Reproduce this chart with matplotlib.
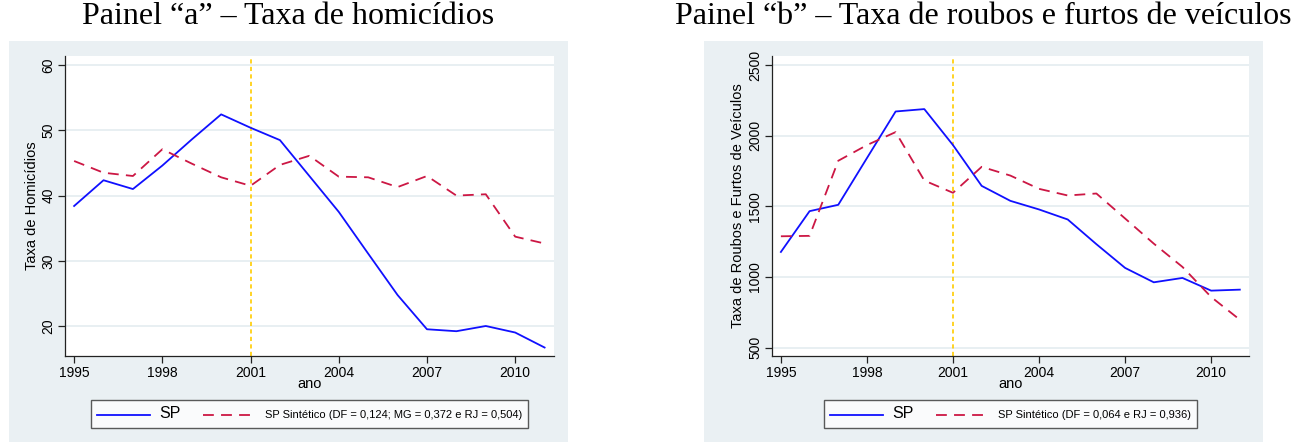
import matplotlib
matplotlib.use("Agg")
import matplotlib.pyplot as plt
from matplotlib.patches import Rectangle

anos = list(range(1995, 2012))

# Painel a - taxa de homicidios
hom_sp = [38.4, 42.35, 41.0, 44.6, 48.6, 52.45, 50.4, 48.5, 43.0, 37.5,
          31.1, 24.75, 19.5, 19.2, 20.0, 19.0, 16.7]
hom_sint = [45.3, 43.5, 43.0, 47.1, 44.9, 42.8, 41.5, 44.7, 46.1, 42.9,
            42.8, 41.3, 43.0, 40.0, 40.2, 33.7, 32.65]

# Painel b - roubos e furtos de veiculos
rf_sp = [1177, 1466, 1511, 1842, 2172, 2189, 1934, 1645, 1539, 1478,
         1407, 1232, 1064, 962, 993, 903, 910]
rf_sint = [1288, 1291, 1823, 1934, 2026, 1683, 1596, 1780, 1718, 1624,
           1577, 1591, 1414, 1236, 1071, 858, 697]

xticks = [1995, 1998, 2001, 2004, 2007, 2010]
yticks_a = [20, 30, 40, 50, 60]
yticks_b = [500, 1000, 1500, 2000, 2500]

BG = '#eaf0f3'
GRID = '#e4ecf0'
BLUE = '#1010ff'
RED = '#cc1744'
GOLD = '#ffcc00'

W, H = 1309, 443
fig = plt.figure(figsize=(W / 100, H / 100), dpi=100)


def fx(px):
	return px / W


def fy(py):
	return 1 - py / H


def painel(gx0, gx1, ax0, ax1, titulo, sp, sint, yticks, ylim, ylabel, leg_sint):
	fig.patches.append(Rectangle((fx(gx0), fy(442)), fx(gx1 - gx0), (442 - 41) / H,
	                             transform=fig.transFigure, facecolor=BG, edgecolor='none', zorder=-5))
	fig.text(fx((gx0 + gx1) / 2), fy(16), titulo, ha='center', va='center',
	         family='Liberation Serif', fontsize=23)
	ax = fig.add_axes([fx(ax0), fy(356), fx(ax1 - ax0), 300 / H])
	ax.set_facecolor('white')
	for s in ['top', 'right']:
		ax.spines[s].set_visible(False)
	for s in ['left', 'bottom']:
		ax.spines[s].set_color('#222222')
		ax.spines[s].set_linewidth(0.9)
	ax.set_yticks(yticks)
	ax.grid(axis='y', color=GRID, linewidth=1.2)
	ax.set_axisbelow(True)
	ax.axvline(2001, color=GOLD, linestyle=(0, (2.5, 2)), linewidth=1.2, zorder=2)
	l1, = ax.plot(anos, sp, color=BLUE, linewidth=1.3, zorder=3)
	l2, = ax.plot(anos, sint, color=RED, linewidth=1.3, linestyle=(0, (6, 4)), zorder=3)
	ax.set_xticks(xticks)
	ax.set_xlim(1994.69, 2011.32)
	ax.set_ylim(*ylim)
	ax.tick_params(axis='both', direction='out', length=5, width=0.9, color='#222222',
	               labelsize=10, labelfontfamily='Liberation Sans')
	ax.tick_params(axis='x', pad=2)
	ax.tick_params(axis='y', pad=2)
	for t in ax.get_yticklabels():
		t.set_rotation(90)
		t.set_va('center')
	ax.set_xlabel('ano', family='Liberation Sans', fontsize=10.5, labelpad=-2)
	ax.set_ylabel(ylabel, family='Liberation Sans', fontsize=10.5, labelpad=2)
	leg = ax.legend([l1, l2], ['SP', leg_sint], loc='center',
	                bbox_to_anchor=(fx((ax0 + ax1) / 2), fy(414)), bbox_transform=fig.transFigure,
	                ncol=2, prop={'family': 'Liberation Sans', 'size': 8},
	                frameon=True, fancybox=False, handlelength=4.8, handletextpad=0.8,
	                columnspacing=2.0, borderpad=0.55)
	leg.get_frame().set_edgecolor('#333333')
	leg.get_frame().set_linewidth(1.0)
	leg.get_texts()[0].set_fontsize(11.5)
	return ax


painel(9, 568, 65, 554, 'Painel \u201ca\u201d \u2013 Taxa de homic\u00eddios',
       hom_sp, hom_sint, yticks_a, (15.4, 61.4), 'Taxa de Homic\u00eddios',
       'SP Sint\u00e9tico (DF = 0,124; MG = 0,372 e RJ = 0,504)')
painel(704, 1263, 772, 1249, 'Painel \u201cb\u201d \u2013 Taxa de roubos e furtos de ve\u00edculos',
       rf_sp, rf_sint, yticks_b, (440, 2565), 'Taxa de Roubos e Furtos de Ve\u00edculos',
       'SP Sint\u00e9tico (DF = 0,064 e RJ = 0,936)')

fig.savefig('out.png', dpi=100)
